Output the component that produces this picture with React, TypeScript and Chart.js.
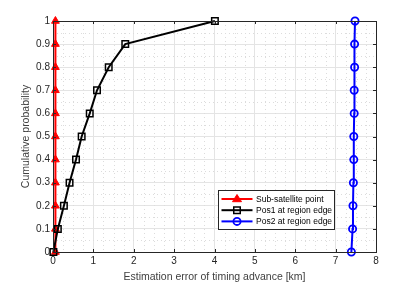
import React, { useEffect, useRef } from "react";
import { Chart, registerables } from "chart.js";

Chart.register(...registerables);

const probabilities = [0, 0.1, 0.2, 0.3, 0.4, 0.5, 0.6, 0.7, 0.8, 0.9, 1.0];
const subSatelliteErr = [0.06, 0.06, 0.06, 0.06, 0.06, 0.06, 0.06, 0.06, 0.06, 0.06, 0.06];
const pos1Err = [0.01, 0.12, 0.27, 0.41, 0.57, 0.71, 0.91, 1.09, 1.38, 1.79, 4.01];
const pos2Err = [7.39, 7.42, 7.43, 7.44, 7.45, 7.45, 7.46, 7.46, 7.47, 7.47, 7.48];
const seriesLabels = ["Sub-satellite point", "Pos1 at region edge", "Pos2 at region edge"];
const xTitle = "Estimation error of timing advance [km]";
const yTitle = "Cumulative probability";

const FONT = "'Liberation Sans', Arial, sans-serif";
const AXIS_COLOR = "#262626";

const toPoints = (xs: number[]) => xs.map((x, i) => ({ x, y: probabilities[i] }));

const minorGridPlugin = {
  id: "minorGrid",
  beforeDatasetsDraw(chart: any) {
    const { ctx, chartArea, scales } = chart;
    const xs = scales.x;
    const ys = scales.y;
    ctx.save();
    ctx.strokeStyle = "#dcdcdc";
    ctx.lineWidth = 1;
    ctx.setLineDash([1, 3]);
    const xStep = 0.25;
    for (let v = xs.min; v <= xs.max + 1e-9; v += xStep) {
      if (Math.abs(v - Math.round(v)) < 1e-6) continue;
      const px = Math.round(xs.getPixelForValue(v)) + 0.5;
      ctx.beginPath();
      ctx.moveTo(px, chartArea.top);
      ctx.lineTo(px, chartArea.bottom);
      ctx.stroke();
    }
    const yStep = 0.05;
    for (let i = 0; i * yStep <= ys.max + 1e-9; i++) {
      if (i % 2 === 0) continue;
      const v = i * yStep;
      const py = Math.round(ys.getPixelForValue(v)) + 0.5;
      ctx.beginPath();
      ctx.moveTo(chartArea.left, py);
      ctx.lineTo(chartArea.right, py);
      ctx.stroke();
    }
    ctx.restore();
  },
};

const boxPlugin = {
  id: "matlabBox",
  afterDatasetsDraw(chart: any) {
    const { ctx, chartArea, scales } = chart;
    const { left, right, top, bottom } = chartArea;
    ctx.save();
    ctx.strokeStyle = AXIS_COLOR;
    ctx.lineWidth = 1;
    ctx.setLineDash([]);
    ctx.strokeRect(Math.round(left) + 0.5, Math.round(top) + 0.5, Math.round(right - left), Math.round(bottom - top));
    const tl = 3;
    scales.x.ticks.forEach((t: any) => {
      const px = Math.round(scales.x.getPixelForValue(t.value)) + 0.5;
      ctx.beginPath();
      ctx.moveTo(px, bottom);
      ctx.lineTo(px, bottom - tl);
      ctx.moveTo(px, top);
      ctx.lineTo(px, top + tl);
      ctx.stroke();
    });
    scales.y.ticks.forEach((t: any) => {
      const py = Math.round(scales.y.getPixelForValue(t.value)) + 0.5;
      ctx.beginPath();
      ctx.moveTo(left, py);
      ctx.lineTo(left + tl, py);
      ctx.moveTo(right, py);
      ctx.lineTo(right - tl, py);
      ctx.stroke();
    });
    ctx.restore();
  },
  afterDraw(chart: any) {
    const { ctx, chartArea } = chart;
    const w = 116;
    const h = 39;
    const x0 = Math.round(chartArea.right - 42 - w) + 0.5;
    const y0 = Math.round(chartArea.bottom - 23 - h) + 0.5;
    ctx.save();
    ctx.fillStyle = "#ffffff";
    ctx.fillRect(x0, y0, w, h);
    ctx.strokeStyle = AXIS_COLOR;
    ctx.lineWidth = 1;
    ctx.strokeRect(x0, y0, w, h);
    ctx.font = `8.5px ${FONT}`;
    ctx.textBaseline = "middle";
    chart.data.datasets.forEach((ds: any, i: number) => {
      const cy = y0 + 8.5 + i * 11.2;
      ctx.strokeStyle = ds.borderColor;
      ctx.lineWidth = 2;
      ctx.beginPath();
      ctx.moveTo(x0 + 3, cy);
      ctx.lineTo(x0 + 34, cy);
      ctx.stroke();
      const mx = x0 + 18.5;
      ctx.lineWidth = ds.pointBorderWidth;
      ctx.strokeStyle = ds.pointBorderColor;
      ctx.fillStyle = ds.pointBackgroundColor;
      const r = ds.pointRadius;
      ctx.beginPath();
      if (ds.pointStyle === "triangle") {
        ctx.moveTo(mx, cy - r);
        ctx.lineTo(mx + r, cy + r * 0.6);
        ctx.lineTo(mx - r, cy + r * 0.6);
        ctx.closePath();
        ctx.fill();
        ctx.stroke();
      } else if (ds.pointStyle === "rect") {
        const s = r * Math.SQRT1_2;
        ctx.rect(mx - s, cy - s, 2 * s, 2 * s);
        ctx.stroke();
      } else {
        ctx.arc(mx, cy, r, 0, Math.PI * 2);
        ctx.stroke();
      }
      ctx.fillStyle = "#000000";
      ctx.textAlign = "left";
      ctx.fillText(ds.label, x0 + 37.5, cy + 0.5);
    });
    ctx.restore();
  },
};

export default function App() {
  const canvasRef = useRef<HTMLCanvasElement | null>(null);

  useEffect(() => {
    document.body.style.margin = "0";
    const canvas = canvasRef.current;
    if (!canvas) return;
    const chart = new Chart(canvas, {
      type: "line",
      data: {
        datasets: [
          {
            label: seriesLabels[0],
            data: toPoints(subSatelliteErr),
            borderColor: "#ff0000",
            backgroundColor: "#ff0000",
            borderWidth: 2,
            pointStyle: "triangle",
            pointRadius: 4.5,
            pointBorderWidth: 1,
            pointBorderColor: "#ff0000",
            pointBackgroundColor: "#ff0000",
            clip: false,
            order: 3,
          },
          {
            label: seriesLabels[1],
            data: toPoints(pos1Err),
            borderColor: "#000000",
            backgroundColor: "#000000",
            borderWidth: 2,
            pointStyle: "rect",
            pointRadius: 4.6,
            pointBorderWidth: 1.5,
            pointBorderColor: "#000000",
            pointBackgroundColor: "rgba(0,0,0,0)",
            clip: false,
            order: 1,
          },
          {
            label: seriesLabels[2],
            data: toPoints(pos2Err),
            borderColor: "#0000ff",
            backgroundColor: "#0000ff",
            borderWidth: 2,
            pointStyle: "circle",
            pointRadius: 3.6,
            pointBorderWidth: 1.8,
            pointBorderColor: "#0000ff",
            pointBackgroundColor: "rgba(0,0,0,0)",
            clip: false,
            order: 2,
          },
        ],
      },
      options: {
        animation: false,
        responsive: false,
        maintainAspectRatio: false,
        devicePixelRatio: 1,
        layout: { padding: { left: 16, right: 39, top: 21, bottom: 0 } },
        plugins: {
          legend: { display: false },
          tooltip: { enabled: false },
        },
        elements: { line: { tension: 0 } },
        scales: {
          x: {
            type: "linear",
            min: 0,
            max: 8,
            ticks: {
              stepSize: 1,
              color: AXIS_COLOR,
              font: { family: FONT, size: 10 },
              padding: 3,
              maxRotation: 0,
            },
            grid: { color: "#e4e4e4", lineWidth: 1, drawTicks: false },
            border: { display: false },
            title: {
              display: true,
              text: xTitle,
              color: "#404040",
              font: { family: FONT, size: 10.5 },
              padding: { top: 4, bottom: 0 },
            },
            afterFit: (scale: any) => {
              scale.height = 31;
            },
          },
          y: {
            type: "linear",
            min: 0,
            max: 1,
            ticks: {
              stepSize: 0.1,
              color: AXIS_COLOR,
              font: { family: FONT, size: 10 },
              padding: 3,
              callback: (v: any) => String(Number(Number(v).toFixed(1))),
            },
            grid: { color: "#e4e4e4", lineWidth: 1, drawTicks: false },
            border: { display: false },
            title: {
              display: true,
              text: yTitle,
              color: "#404040",
              font: { family: FONT, size: 10.5 },
              padding: { top: 4, bottom: 4 },
            },
            afterFit: (scale: any) => {
              scale.width = 37;
            },
          },
        },
      },
      plugins: [minorGridPlugin, boxPlugin],
    });
    return () => chart.destroy();
  }, []);

  return (
    <div style={{ position: "absolute", left: 0, top: 0, width: 415, height: 283, background: "#fff" }}>
      <canvas ref={canvasRef} width={415} height={283} style={{ width: 415, height: 283, display: "block" }} />
    </div>
  );
}
